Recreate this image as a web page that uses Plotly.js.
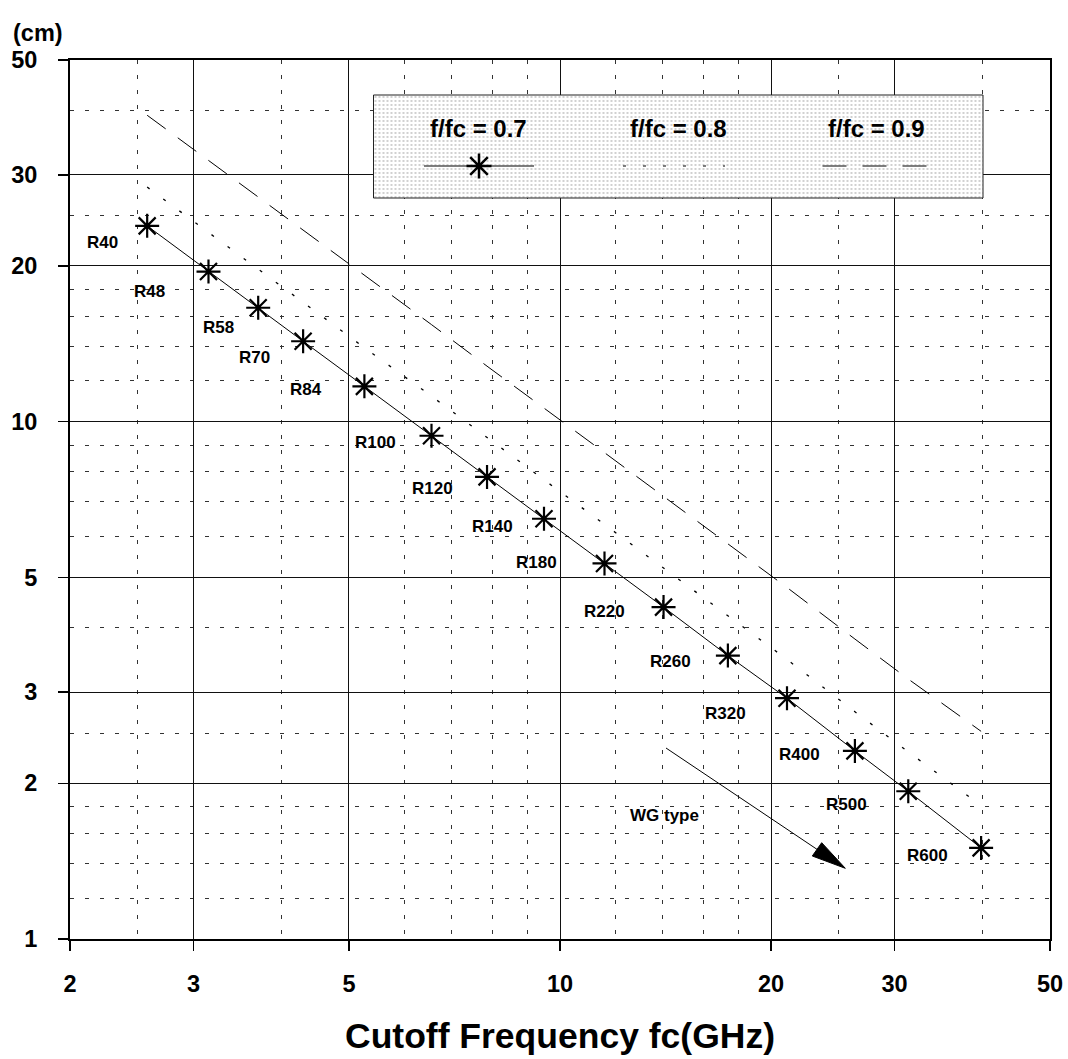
<!DOCTYPE html>
<html>
<head>
<meta charset="utf-8">
<script src="https://cdn.plot.ly/plotly-3.0.1.min.js"></script>
<style>html,body{margin:0;padding:0;background:#fff}#chart{width:1068px;height:1059px}</style>
</head>
<body>
<div id="chart"></div>
<script>
// ---------- data ----------
const wgTypes   = ['R40','R48','R58','R70','R84','R100','R120','R140','R180','R220','R260','R320','R400','R500','R600'];
const cutoffGHz = [2.577,3.152,3.711,4.301,5.26,6.557,7.869,9.488,11.574,14.051,17.357,21.077,26.344,31.39,39.875];
const len07     = [23.9,19.5,16.6,14.3,11.7,9.39,7.82,6.49,5.32,4.38,3.53,2.92,2.31,1.93,1.50];
const len08     = [28.4,23.2,19.7,17.0,13.9,11.2,9.31,7.72,6.33,5.21,4.20,3.47,2.75,2.30,1.81];
const len09     = [39.1,32.0,27.2,23.4,19.2,15.4,12.8,10.6,8.71,7.17,5.81,4.78,3.80,3.18,2.52];
const seriesNames = ['f/fc = 0.7','f/fc = 0.8','f/fc = 0.9'];
const xTickVals = [2,3,5,10,20,30,50];
const yTickVals = [1,2,3,5,10,20,30,50];
const xMinorVals = [2.5,4,6,7,8,9,12,14,16,18,25,40];
const yMinorVals = [1.2,1.4,1.6,1.8,2.5,4,6,7,8,9,12,14,16,18,25,40];
const xTitle = 'Cutoff Frequency fc(GHz)';
const yUnit = '(cm)';
const arrowLabel = 'WG type';

// ---------- layout helpers (pixel -> paper) ----------
const M = {l:70, r:18, t:60, b:120};
const W = 1068, H = 1059;
const PW = W - M.l - M.r, PH = H - M.t - M.b;
const PX = px => (px - M.l) / PW;
const PY = py => (H - M.b - py) / PH;
const FONT = 'Liberation Sans, Arial, Helvetica, sans-serif';

// label offsets (px) relative to each marker: [dx, dy(down)]
const labelOffsets = [[-45,17],[-59,20],[-40,20],[-49,16],[-58,3],[-56,7],[-55,12],[-52,8],[-68,-1],[-59,4],[-57,6],[-62,15],[-55,4],[-62,13],[-54,8]];

const traces = [
  {x: cutoffGHz, y: len09, name: seriesNames[2], mode:'lines',
   line:{color:'#000', width:1, dash:'23px,15px'}, hoverinfo:'skip'},
  {x: cutoffGHz, y: len08, name: seriesNames[1], mode:'lines',
   line:{color:'#000', width:1.3, dash:'3px,17px'}, hoverinfo:'skip'},
  {x: cutoffGHz, y: len07, name: seriesNames[0], mode:'lines+markers',
   line:{color:'#000', width:1},
   marker:{symbol:'asterisk-open', size:20, color:'#000', line:{color:'#000', width:2.2}}},
  // stippled legend panel
  {type:'bar', x:[0.5], y:[1], width:[1], xaxis:'x2', yaxis:'y2', hoverinfo:'skip',
   marker:{color:'#fff', line:{width:0},
     pattern:{shape:'.', fgcolor:'#888', bgcolor:'#fff', size:4, solidity:0.1}}}
];

const annotations = [];
wgTypes.forEach((t,i)=>{
  annotations.push({x: Math.log10(cutoffGHz[i]), y: Math.log10(len07[i]), xref:'x', yref:'y',
    xanchor:'center', yanchor:'middle',
    text: t, showarrow:false, xshift: labelOffsets[i][0], yshift: -labelOffsets[i][1],
    font:{family:FONT, size:17, weight:'bold', color:'#000'}});
});
annotations.push({x: PX(664), y: PY(815), xref:'paper', yref:'paper', xanchor:'center', yanchor:'middle',
  text: arrowLabel, showarrow:false, font:{family:FONT, size:17, weight:'bold', color:'#000'}});
annotations.push({x: PX(11), y: PY(33), xref:'paper', yref:'paper', xanchor:'left', yanchor:'middle',
  text: yUnit, showarrow:false, font:{family:FONT, size:23.5, weight:'bold', color:'#000'}});
const legendTextX = [478, 678, 876];
seriesNames.forEach((s,i)=>{
  annotations.push({x: PX(legendTextX[i]), y: PY(129), xref:'paper', yref:'paper', xanchor:'center', yanchor:'middle',
    text: s, showarrow:false, font:{family:FONT, size:24, weight:'bold', color:'#000'}});
});

function pathPx(segs){
  return segs.map(s => 'M' + PX(s[0]) + ',' + PY(s[1]) + 'L' + PX(s[2]) + ',' + PY(s[3])).join('');
}
const ax = 479, ay = 166, rs = 12.5, rc = 8.8;
const shapes = [
  {type:'rect', xref:'paper', yref:'paper', x0:PX(373.5), x1:PX(983), y0:PY(198), y1:PY(95),
   line:{color:'#222', width:1}, fillcolor:'rgba(0,0,0,0)'},
  {type:'line', xref:'paper', yref:'paper', x0:PX(424), x1:PX(534), y0:PY(166), y1:PY(166), line:{color:'#555', width:1.5}},
  {type:'path', xref:'paper', yref:'paper', line:{color:'#000', width:2.5},
   path: pathPx([[ax,ay-rs,ax,ay+rs],[ax-rs,ay,ax+rs,ay],[ax-rc,ay-rc,ax+rc,ay+rc],[ax-rc,ay+rc,ax+rc,ay-rc]])},
  {type:'line', xref:'paper', yref:'paper', x0:PX(623), x1:PX(725), y0:PY(166), y1:PY(166), line:{color:'#555', width:1.5, dash:'3px,17px'}},
  {type:'line', xref:'paper', yref:'paper', x0:PX(822.5), x1:PX(926.5), y0:PY(166), y1:PY(166), line:{color:'#555', width:1.5, dash:'24px,16px'}},
  // WG type arrow
  {type:'line', xref:'paper', yref:'paper', x0:PX(666), y0:PY(748), x1:PX(818), y1:PY(850), line:{color:'#000', width:1}},
  {type:'path', xref:'paper', yref:'paper', fillcolor:'#000', line:{color:'#000', width:1},
   path:'M'+PX(845.3)+','+PY(868.3)+'L'+PX(821.7)+','+PY(842.7)+'L'+PX(812.3)+','+PY(856)+'Z'}
];

const layout = {
  width: W, height: H, margin: M, showlegend:false,
  paper_bgcolor:'#fff', plot_bgcolor:'#fff',
  font:{family:FONT, color:'#000'},
  xaxis:{type:'log', range:[Math.log10(2), Math.log10(50)], tickvals:xTickVals, ticktext:xTickVals.map(String),
    ticks:'outside', ticklen:10, tickwidth:1.5, tickcolor:'#000', ticklabelstandoff:13,
    showline:true, mirror:true, linecolor:'#000', linewidth:2,
    showgrid:true, gridcolor:'#111', gridwidth:1, zeroline:false, fixedrange:true,
    tickfont:{family:FONT, size:23.5, weight:'bold', color:'#000'},
    minor:{tickvals:xMinorVals, showgrid:true, gridcolor:'#333', gridwidth:1, griddash:'4px,11px', ticks:''},
    title:{text:xTitle, font:{family:FONT, size:35.5, weight:'bold', color:'#000'}, standoff:27}},
  yaxis:{type:'log', range:[0, Math.log10(50)], tickvals:yTickVals, ticktext:yTickVals.map(String),
    ticks:'outside', ticklen:10, tickwidth:1.5, tickcolor:'#000', ticklabelstandoff:16,
    showline:true, mirror:true, linecolor:'#000', linewidth:2,
    showgrid:true, gridcolor:'#111', gridwidth:1, zeroline:false, fixedrange:true,
    tickfont:{family:FONT, size:23.5, weight:'bold', color:'#000'},
    minor:{tickvals:yMinorVals, showgrid:true, gridcolor:'#333', gridwidth:1, griddash:'4px,11px', ticks:''}},
  xaxis2:{domain:[PX(373.5), PX(983)], anchor:'y2', range:[0,1], visible:false, fixedrange:true},
  yaxis2:{domain:[PY(198), PY(95)], anchor:'x2', range:[0,1], visible:false, fixedrange:true},
  annotations: annotations,
  shapes: shapes
};

Plotly.newPlot('chart', traces, layout, {displayModeBar:false, staticPlot:true});
</script>
</body>
</html>
